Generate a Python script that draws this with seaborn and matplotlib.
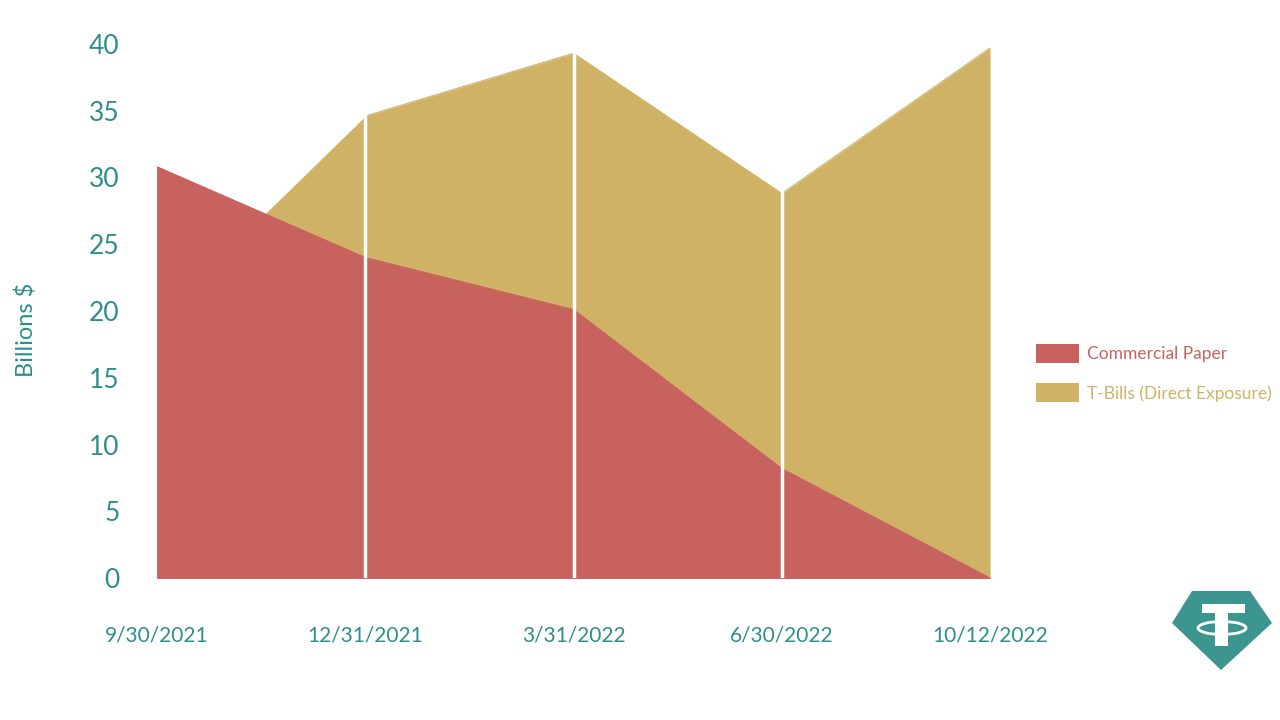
import numpy as np
import pandas as pd
import matplotlib
matplotlib.use("Agg")
import matplotlib.pyplot as plt
import seaborn as sns
from matplotlib.patches import Polygon, Ellipse, Rectangle, Patch

# data (billions $)
dates = ["9/30/2021", "12/31/2021", "3/31/2022", "6/30/2022", "10/12/2022"]
commercial_paper = [30.8, 24.0, 20.1, 8.2, 0.0]
t_bills = [19.4, 34.6, 39.3, 28.8, 39.7]
y_ticks = [0, 5, 10, 15, 20, 25, 30, 35, 40]

RED = "#C8625F"
GOLD = "#CFB265"
TEAL = "#2E8E8C"
LOGO = "#3D9590"

sns.set_theme(style="white")
plt.rcParams["font.family"] = ["Lato", "DejaVu Sans"]

df = pd.DataFrame({"x": np.arange(len(dates)), "cp": commercial_paper, "tb": t_bills})

fig = plt.figure(figsize=(12.8, 7.2), dpi=100)
ax = fig.add_axes([0.1227, 0.197, 0.6508, 0.742])

# T-bills behind, commercial paper on top (overlapping, not stacked)
ax.fill_between(df["x"], 0, df["tb"], color=GOLD, linewidth=0, zorder=1)
sns.lineplot(data=df.iloc[1:], x="x", y="tb", ax=ax, color=GOLD, linewidth=0.8, zorder=1)
ax.fill_between(df["x"], 0, df["cp"], facecolor=RED, edgecolor=RED, linewidth=0.6, zorder=2)
sns.lineplot(data=df, x="x", y="cp", ax=ax, color=RED, linewidth=0.8, zorder=2)

# white vertical separators at the inner dates
for xi in df["x"][1:-1]:
    ax.axvline(xi, color="white", linewidth=2.5, zorder=3)

ax.set_xlim(0, len(dates) - 1)
ax.set_ylim(0, 40)
ax.set_yticks(y_ticks)
ax.set_yticklabels([str(v) for v in y_ticks], fontsize=19, color=TEAL)
ax.set_xticks(df["x"])
ax.set_xticklabels(dates, fontsize=15, color=TEAL)
ax.tick_params(axis="y", length=0, pad=27)
ax.tick_params(axis="x", length=0, pad=34)
ax.set_xlabel("")
ax.set_ylabel("Billions $", fontsize=17, color=TEAL)
ax.yaxis.set_label_coords(-0.143, 0.464)
for s in ax.spines.values():
    s.set_visible(False)

# legend
handles = [Patch(facecolor=RED, edgecolor="none"), Patch(facecolor=GOLD, edgecolor="none")]
leg = fig.legend(handles, ["Commercial Paper", "T-Bills (Direct Exposure)"],
                 loc="center left", bbox_to_anchor=(0.797, 0.482), frameon=False,
                 fontsize=12.5, handlelength=2.5, handleheight=1.3,
                 labelspacing=1.2, handletextpad=0.45)
for txt, c in zip(leg.get_texts(), [RED, GOLD]):
    txt.set_color(c)

# logo (decoration), drawn in pixel coordinates of a small axes
lax = fig.add_axes([1168 / 1280, 1 - 676 / 720, 110 / 1280, 92 / 720])
lax.set_xlim(1168, 1278)
lax.set_ylim(676, 584)
lax.axis("off")
lax.add_patch(Polygon([(1192, 591), (1250, 591), (1272, 623), (1221, 670), (1172, 623)],
                      closed=True, facecolor=LOGO, edgecolor="none"))
lax.add_patch(Rectangle((1202, 604), 43, 9, facecolor="white", edgecolor="none"))
lax.add_patch(Rectangle((1215, 604), 13, 42, facecolor="white", edgecolor="none"))
lax.add_patch(Ellipse((1222, 628), 48, 13, facecolor="none", edgecolor="white", linewidth=2))

fig.savefig("out.png", dpi=100, facecolor="white")
